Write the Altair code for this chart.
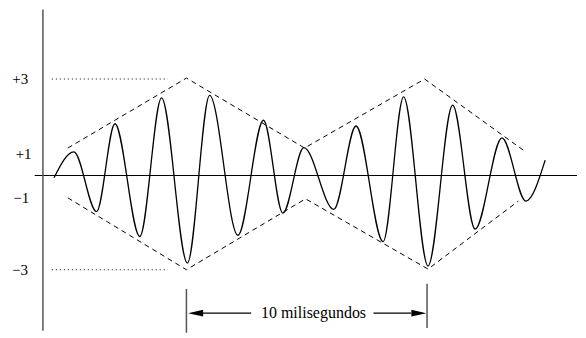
import altair as alt
import pandas as pd

# --- data (time in ms, amplitude in units) ---
wave_t = [0.46, 1.28, 2.22, 2.98, 4.01, 4.91, 5.98, 6.90, 8.07, 9.13, 9.93,
          10.80, 12.04, 12.96, 14.08, 14.93, 15.94, 16.96, 17.89, 19.00, 19.99, 20.79]
wave_a = [-0.07, 0.74, -1.13, 1.62, -1.91, 2.43, -2.74, 2.51, -1.87, 1.73, -1.18,
          0.87, -1.06, 1.55, -2.07, 2.46, -2.83, 2.20, -1.68, 1.18, -0.80, 0.48]

env_upper_t = [1.03, 5.94, 10.83, 15.80, 19.89]
env_upper_a = [0.86, 3.05, 0.86, 3.02, 0.79]
env_lower_t = [1.03, 5.94, 10.87, 15.94, 19.68]
env_lower_a = [-0.70, -2.95, -0.73, -2.93, -0.80]

level_a = [3.02, -2.95]
level_t_start = 0.37
level_t_end = 5.17

label_text = ["+3", "+1", "\u22121", "\u22123"]
label_a = [3.02, 0.68, -0.70, -2.95]
label_t = [-0.61, -0.47, -0.57, -0.62]

span_start = 5.94
span_end = 15.90
span_text = "10 milisegundos"

X_DOMAIN = [-1.446, 22.107]
Y_DOMAIN = [-4.859, 5.203]

xs = alt.Scale(domain=X_DOMAIN, nice=False, zero=False)
ys = alt.Scale(domain=Y_DOMAIN, nice=False, zero=False)


def X(f="t"):
    return alt.X(f"{f}:Q", scale=xs, axis=None)


def Y(f="a"):
    return alt.Y(f"{f}:Q", scale=ys, axis=None)


wave_df = pd.DataFrame({"t": wave_t, "a": wave_a, "i": range(len(wave_t))})
env_df = pd.concat([
    pd.DataFrame({"t": env_upper_t, "a": env_upper_a, "g": "up", "i": range(5)}),
    pd.DataFrame({"t": env_lower_t, "a": env_lower_a, "g": "lo", "i": range(5)}),
])

# axes lines
axis_h = pd.DataFrame({"t": [-0.34], "t2": [X_DOMAIN[1]], "a": [0.0], "a2": [0.0]})
axis_v = pd.DataFrame({"t": [0.0], "t2": [0.0], "a": [5.2], "a2": [Y_DOMAIN[0]]})

levels = pd.DataFrame({"t": [level_t_start] * 2, "t2": [level_t_end] * 2,
                       "a": level_a, "a2": level_a})
labels = pd.DataFrame({"t": label_t, "a": label_a, "txt": label_text})

bars = pd.DataFrame({"t": [span_start, span_end], "t2": [span_start, span_end],
                     "a": [-3.55, -3.39], "a2": [-4.92, -4.77]})
shafts = pd.DataFrame({"t": [6.61, 13.68], "t2": [8.62, 15.25],
                       "a": [-4.31, -4.31], "a2": [-4.31, -4.31]})
heads_l = pd.DataFrame({"t": [6.32], "a": [-4.31]})
heads_r = pd.DataFrame({"t": [15.56], "a": [-4.31]})
span_lbl = pd.DataFrame({"t": [(span_start + span_end) / 2 + 0.28], "a": [-4.31],
                         "txt": [span_text]})

wave = alt.Chart(wave_df).mark_line(
    interpolate="monotone", color="black", strokeWidth=1.3
).encode(x=X(), y=Y(), order="i:O")

env = alt.Chart(env_df).mark_line(
    color="black", strokeWidth=1, strokeDash=[5, 4]
).encode(x=X(), y=Y(), detail="g:N", order="i:O")

h_axis = alt.Chart(axis_h).mark_rule(color="black", strokeWidth=1.2).encode(
    x=X(), x2="t2", y=Y(), y2="a2")
v_axis = alt.Chart(axis_v).mark_rule(color="#555555", strokeWidth=1.5).encode(
    x=X(), x2="t2", y=Y(), y2="a2")

lev = alt.Chart(levels).mark_rule(color="black", strokeWidth=1, strokeDash=[1, 3]).encode(
    x=X(), x2="t2", y=Y(), y2="a2")

lab = alt.Chart(labels).mark_text(
    font="Liberation Serif", fontSize=15, align="right", baseline="middle", color="black"
).encode(x=X(), y=Y(), text="txt:N")

bar = alt.Chart(bars).mark_rule(color="#555555", strokeWidth=1.5).encode(
    x=X(), x2="t2", y=Y(), y2="a2")
shaft = alt.Chart(shafts).mark_rule(color="black", strokeWidth=1.2).encode(
    x=X(), x2="t2", y=Y(), y2="a2")
hl = alt.Chart(heads_l).mark_point(
    shape="M -1 0 L 1 -0.45 L 1 0.45 Z", filled=True, color="black", opacity=1, size=225
).encode(x=X(), y=Y())
hr = alt.Chart(heads_r).mark_point(
    shape="M 1 0 L -1 -0.45 L -1 0.45 Z", filled=True, color="black", opacity=1, size=225
).encode(x=X(), y=Y())
slbl = alt.Chart(span_lbl).mark_text(
    font="Liberation Serif", fontSize=16, align="center", baseline="middle", color="black"
).encode(x=X(), y=Y(), text="txt:N")

chart = alt.layer(
    lev, env, h_axis, v_axis, wave, lab, bar, shaft, hl, hr, slbl
).properties(width=570, height=322, padding=0).configure_view(stroke=None)

chart.save("out.html", embed_options={"renderer": "svg", "actions": False})
